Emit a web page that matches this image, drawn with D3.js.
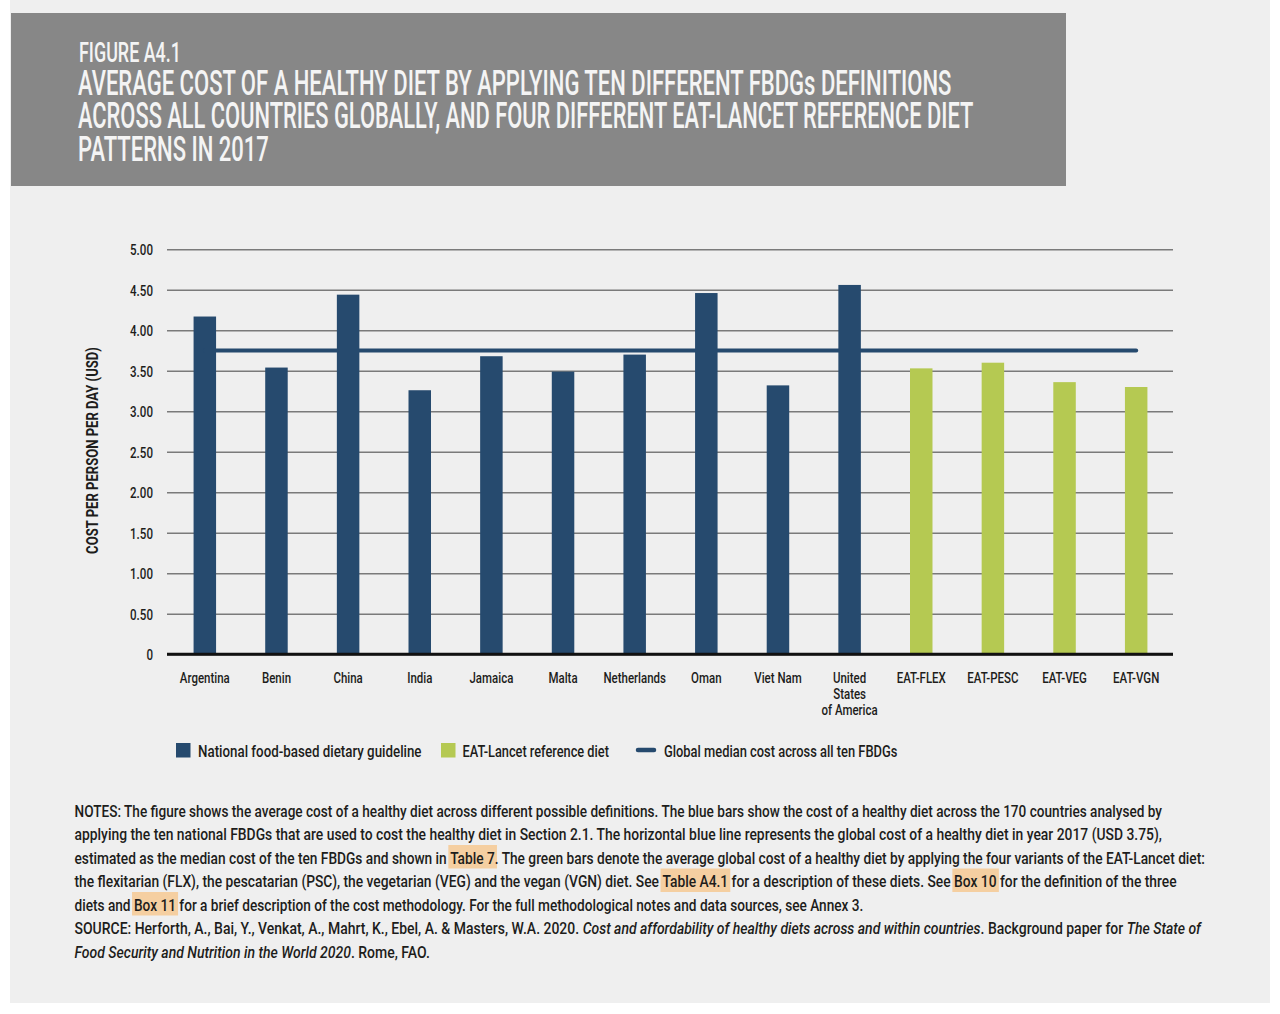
<!DOCTYPE html>
<html><head><meta charset="utf-8">
<script src="https://cdn.jsdelivr.net/npm/d3@7/dist/d3.min.js"></script>
<style>
html,body{margin:0;padding:0;background:#fff;}
svg{display:block;}
text{font-family:Roboto,"Liberation Sans Narrow","Liberation Sans",Arial,sans-serif;}
</style></head><body>
<svg id="chart" width="1280" height="1014"></svg>
<script>
// ---------- DATA ----------
const categories = ["Argentina","Benin","China","India","Jamaica","Malta","Netherlands","Oman","Viet Nam","United States of America","EAT-FLEX","EAT-PESC","EAT-VEG","EAT-VGN"];
const categoryLabelLines = [["Argentina"],["Benin"],["China"],["India"],["Jamaica"],["Malta"],["Netherlands"],["Oman"],["Viet Nam"],["United","States","of America"],["EAT-FLEX"],["EAT-PESC"],["EAT-VEG"],["EAT-VGN"]];
const costValues = [4.17,3.54,4.44,3.26,3.68,3.49,3.70,4.46,3.32,4.56,3.53,3.60,3.36,3.30];
const seriesOf = ["fbdg","fbdg","fbdg","fbdg","fbdg","fbdg","fbdg","fbdg","fbdg","fbdg","eat","eat","eat","eat"];
const medianCost = 3.75;
const yTicks = [0,0.5,1,1.5,2,2.5,3,3.5,4,4.5,5];
const yTickLabels = ["0","0.50","1.00","1.50","2.00","2.50","3.00","3.50","4.00","4.50","5.00"];
const legendLabels = ["National food-based dietary guideline","EAT-Lancet reference diet","Global median cost across all ten FBDGs"];
const titleSmall = "FIGURE A4.1";
const titleLines = ["AVERAGE COST OF A HEALTHY DIET BY APPLYING TEN DIFFERENT FBDGs DEFINITIONS","ACROSS ALL COUNTRIES GLOBALLY, AND FOUR DIFFERENT EAT-LANCET REFERENCE DIET","PATTERNS IN 2017"];
const yAxisTitle = "COST PER PERSON PER DAY (USD)";
const noteLines = [
 [{t:"NOTES: The figure shows the average cost of a healthy diet across different possible definitions. The blue bars show the cost of a healthy diet across the 170 countries analysed by"}],
 [{t:"applying the ten national FBDGs that are used to cost the healthy diet in Section 2.1. The horizontal blue line represents the global cost of a healthy diet in year 2017 (USD 3.75),"}],
 [{t:"estimated as the median cost of the ten FBDGs and shown in "},{t:"Table 7",hl:1},{t:". The green bars denote the average global cost of a healthy diet by applying the four variants of the EAT-Lancet diet:"}],
 [{t:"the flexitarian (FLX), the pescatarian (PSC), the vegetarian (VEG) and the vegan (VGN) diet. See "},{t:"Table A4.1",hl:1},{t:" for a description of these diets. See "},{t:"Box 10",hl:1},{t:" for the definition of the three"}],
 [{t:"diets and "},{t:"Box 11",hl:1},{t:" for a brief description of the cost methodology. For the full methodological notes and data sources, see Annex 3."}],
 [{t:"SOURCE: Herforth, A., Bai, Y., Venkat, A., Mahrt, K., Ebel, A. & Masters, W.A. 2020. "},{t:"Cost and affordability of healthy diets across and within countries",it:1},{t:". Background paper for "},{t:"The State of",it:1}],
 [{t:"Food Security and Nutrition in the World 2020",it:1},{t:". Rome, FAO."}]
];

// ---------- STYLE ----------
const BLUE = "#264a6e", GREEN = "#b5c952", INK = "#1d1d1b";
const colorOf = {fbdg: BLUE, eat: GREEN};
const svg = d3.select("#chart");

// page panels
svg.append("rect").attr("x",10).attr("y",0).attr("width",1260).attr("height",1003).attr("fill","#efefef");
svg.append("rect").attr("x",11).attr("y",13).attr("width",1055).attr("height",173).attr("fill","#878787");

// helper: text condensed to a target width
function fitText(parent, str, x, y, target, o) {
  o = o || {};
  const g = parent.append("g");
  const t = g.append("text").attr("x",0).attr("y",0)
    .attr("text-anchor", o.anchor || "start")
    .style("font-size", (o.size||16)+"px")
    .style("font-weight", o.weight || 500)
    .attr("fill", o.fill || INK).text(str);
  const w = t.node().getComputedTextLength();
  const k = target / w;
  g.attr("transform", `translate(${x},${y})` + (o.rotate ? ` rotate(${o.rotate})` : "") + ` scale(${k},1)`);
  return g;
}

// ---------- HEADER ----------
fitText(svg, titleSmall, 79, 61.5, 102, {size:28, fill:"#f4f4f4"});
const titleEnds = [952, 974, 269];
const titleBase = [95, 128, 161];
titleLines.forEach((s,i) => fitText(svg, s, 78, titleBase[i], titleEnds[i]-78, {size:36, fill:"#f4f4f4"}));

// ---------- CHART ----------
const plotL = 167, plotR = 1173;
const y = d3.scaleLinear().domain([0,5]).range([654.3, 249.3]);
const x = d3.scaleBand().domain(categories).range([169,1172]).paddingInner(0.686).paddingOuter(0.343);

// gridlines + y tick labels
const yAxis = d3.axisLeft(y).tickValues(yTicks).tickFormat((d,i)=>yTickLabels[i])
  .tickSizeInner(-(plotR-plotL)).tickSizeOuter(0).tickPadding(14);
const gy = svg.append("g").attr("transform",`translate(${plotL},0)`).call(yAxis);
gy.select(".domain").remove();
gy.selectAll(".tick line").attr("stroke","#7a7a7a").attr("stroke-width",1.4);
const probe = svg.append("text").style("font-size","15.5px").style("font-weight",500).text("5.00");
const kTick = 23 / probe.node().getComputedTextLength();
probe.remove();
gy.selectAll(".tick text")
  .style("font-size","15.5px").style("font-weight",500).style("font-family",null).attr("fill",INK)
  .attr("x", -14 / kTick).attr("dy","0.36em")
  .attr("transform", `scale(${kTick},1)`);

// y-axis title
fitText(svg, yAxisTitle, 98, 450.5, 207, {size:16, weight:"bold", anchor:"middle", rotate:-90});

// bars
svg.append("g").selectAll("rect").data(categories).join("rect")
  .attr("x", d => x(d)).attr("width", x.bandwidth())
  .attr("y", (d,i) => y(costValues[i])).attr("height", (d,i) => y(0) - y(costValues[i]))
  .attr("fill", (d,i) => colorOf[seriesOf[i]]);

// median line
svg.append("line")
  .attr("x1", x(categories[0]) + x.bandwidth()/2)
  .attr("x2", x(categories[categories.length-1]) + x.bandwidth()/2)
  .attr("y1", y(medianCost)).attr("y2", y(medianCost))
  .attr("stroke", BLUE).attr("stroke-width",4).attr("stroke-linecap","round");

// baseline
svg.append("line").attr("x1",plotL).attr("x2",plotR).attr("y1",y(0)).attr("y2",y(0))
  .attr("stroke","#111").attr("stroke-width",3);

// x-axis labels
const xAxis = d3.axisBottom(x).tickSize(0).tickPadding(0).tickFormat(() => "");
const gx = svg.append("g").attr("transform",`translate(0,${y(0)})`).call(xAxis);
gx.select(".domain").remove();
const probe2 = svg.append("text").style("font-size","15.5px").style("font-weight",500).text("Argentina");
const kX = 50 / probe2.node().getComputedTextLength();
probe2.remove();
gx.selectAll(".tick text").each(function(d,i){
  const t = d3.select(this).attr("y",0).attr("dy",null)
    .style("font-size","15.5px").style("font-weight",500).attr("fill",INK).attr("transform",`scale(${kX},1)`);
  t.selectAll("tspan").data(categoryLabelLines[i]).join("tspan")
    .attr("x",0).attr("y",(l,j)=> 28.5 + j*16).text(l => l);
});

// ---------- LEGEND ----------
const lg = svg.append("g");
lg.append("rect").attr("x",176).attr("y",743).attr("width",14.5).attr("height",14.5).attr("fill",BLUE);
fitText(lg, legendLabels[0], 198, 756.5, 223.5, {size:16.5});
lg.append("rect").attr("x",441).attr("y",743).attr("width",14.5).attr("height",14.5).attr("fill",GREEN);
fitText(lg, legendLabels[1], 462.5, 756.5, 146.5, {size:16.5});
lg.append("line").attr("x1",638).attr("x2",654).attr("y1",750).attr("y2",750)
  .attr("stroke",BLUE).attr("stroke-width",4.5).attr("stroke-linecap","round");
fitText(lg, legendLabels[2], 664, 756.5, 233.5, {size:16.5});

// ---------- NOTES ----------
const noteEnds = [1163, 1162.5, 1206, 1177, 864.5, 1202, 430];
const noteX = 74.5, noteY0 = 816.5, noteDy = 23.5;
noteLines.forEach((segs, li) => {
  const by = noteY0 + li*noteDy;
  const g = svg.append("g");
  const hlLayer = g.append("g");
  const t = g.append("text").attr("x",0).attr("y",0).style("font-size","16.5px").style("font-weight",500).attr("fill",INK);
  segs.forEach(s => {
    t.append("tspan").style("font-style", s.it ? "italic" : "normal").text(s.t);
  });
  const total = t.node().getComputedTextLength();
  const k = (noteEnds[li] - noteX) / total;
  let off = 0;
  t.selectAll("tspan").each(function(d, j){
    const w = this.getComputedTextLength();
    if (segs[j].hl) {
      hlLayer.append("rect").attr("x", off - 2/k).attr("y", -18.5).attr("width", w + 4/k).attr("height", 23.5)
        .attr("fill","#f5cfa1");
    }
    off += w;
  });
  g.attr("transform", `translate(${noteX},${by}) scale(${k},1)`);
});
</script>
</body></html>
